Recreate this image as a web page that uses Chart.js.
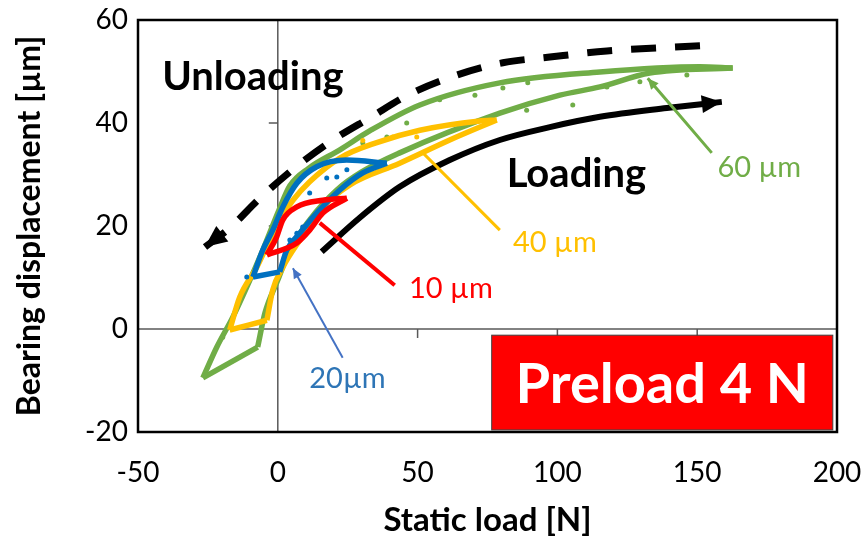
<!DOCTYPE html>
<html>
<head>
<meta charset="utf-8">
<script src="https://cdn.jsdelivr.net/npm/chart.js@4"></script>
<style>
  html, body { margin: 0; padding: 0; background: #fff; }
  #wrap { width: 865px; height: 549px; }
</style>
</head>
<body>
<div id="wrap"><canvas id="c" width="865" height="549"></canvas></div>
<script>
// Bearing displacement vs static load, preload 4 N: hysteresis loops for
// 10/20/40/60 um amplitudes plus the loading / unloading guide curves.
var xTicks = [-50, 0, 50, 100, 150, 200];
var yTicks = [-20, 0, 20, 40, 60];

// guide curves (x = load N, y = displacement um)
var unloadGuide = [[151, 55.0], [117.7, 54.0], [97.3, 52.8], [80.5, 51.7], [64.0, 49.3], [47.2, 45.6],
  [32.9, 41.0], [19.7, 36.7], [6.1, 31.3], [-6.4, 25.4], [-17.2, 19.6], [-26.1, 15.9]];
var loadGuide = [[15.7, 15.0], [29.3, 21.6], [43.6, 27.6], [61.5, 32.8], [79.4, 36.7], [97.3, 39.2],
  [115.2, 41.2], [139.1, 42.9], [158.8, 44.1]];

// 60 um loop
var g60Unload = [[162.7, 50.7], [150.9, 50.9], [115.2, 49.9], [79.4, 47.8], [50.8, 43.5], [33.0, 38.5],
  [22.2, 34.8], [11.0, 31.2], [4.3, 27.8], [0.5, 23.2], [-5.4, 15.3], [-10.0, 9.5], [-16.1, 2.3],
  [-21.8, -3.5], [-26.8, -9.5]];
var g60Base = [[-26.8, -9.5], [-7.2, -3.5]];
var g60Load = [[-7.2, -3.5], [-4.6, 3.1], [0, 9.5], [4.3, 15.3], [11.4, 21.2], [21.1, 27.0], [30.0, 30.5],
  [43.6, 34.2], [79.4, 41.9], [100.9, 45.4], [115.2, 47.0], [133.0, 49.7], [162.7, 50.7]];
var g60Dots = [[57.9, 44.5], [70.5, 45.4], [80.5, 46.8], [89.4, 47.8], [129.5, 48.0], [146.3, 49.3],
  [105.5, 43.5], [89.0, 42.5], [117.7, 47.0], [46.1, 40.0], [39.0, 37.3], [30.4, 36.1], [-19.7, -1.6]];

// 40 um loop
var y40Unload = [[78.3, 40.6], [72.2, 40.4], [50.8, 38.6], [35.4, 36.2], [22.2, 33.2], [11.4, 28.6],
  [5.4, 25.0], [0.7, 21.2], [-2.9, 17.3], [-7.5, 12.0], [-13.6, 6.2], [-17.2, -0.2]];
var y40Base = [[-17.2, -0.2], [-3.9, 1.7]];
var y40Load = [[-3.9, 1.7], [-1.8, 7.6], [1.8, 12.0], [7.9, 17.3], [16.1, 23.7], [25.8, 28.0],
  [43.6, 32.2], [61.5, 36.7], [78.3, 40.6]];
var y40Dots = [[49.7, 37.3], [41.1, 37.3], [30.4, 36.6]];

// 20 um loop
var b20Unload = [[39.0, 32.2], [24.7, 32.8], [13.9, 31.5], [6.8, 28.3], [1.8, 23.7], [-1.8, 19.2],
  [-5.4, 15.3], [-8.9, 10.1]];
var b20Base = [[-8.9, 10.1], [0.7, 11.1]];
var b20Load = [[0.7, 11.1], [3.2, 15.3], [7.9, 18.6], [13.9, 22.5], [22.2, 27.0], [30.4, 30.3], [39.0, 32.2]];
var b20Dots = [[17.5, 29.3], [21.1, 29.5], [24.7, 30.9], [11.4, 26.4], [8.9, 19.8], [6.8, 18.6],
  [4.3, 17.3], [-11.1, 10.1]];

// 10 um loop
var r10Unload = [[24.7, 25.4], [16.1, 25.0], [6.8, 23.7], [1.8, 21.2], [-0.4, 17.9], [-3.9, 14.4]];
var r10Load = [[-3.9, 14.4], [6.8, 16.7], [11.4, 19.2], [16.1, 22.5], [24.7, 25.4]];

// callout leader lines (label end -> curve end)
var lead60 = [[155.2, 34.2], [132.3, 48.7]];
var lead40 = [[79.4, 19.2], [51.9, 34.2]];
var lead10 = [[41.8, 8.5], [15.0, 20.6]];
var lead20 = [[23.2, -5.6], [5.4, 11.8]];

var GREEN = "#70AD47", YELLOW = "#FFC000", BLUE = "#0070C0", RED = "#FF0000";
var FONT = "Lato, 'Open Sans', sans-serif";

var notes = [
  { text: "Unloading", x: -8.9, y: 46.4, color: "#000", font: "bold 40px " + FONT },
  { text: "Loading", x: 106.8, y: 27.6, color: "#000", font: "bold 40px " + FONT },
  { text: "60 \u00b5m", x: 172.2, y: 29.5, color: GREEN, font: "29px " + FONT },
  { text: "40 \u00b5m", x: 99.1, y: 15.0, color: YELLOW, font: "29px " + FONT },
  { text: "10 \u00b5m", x: 61.9, y: 6.0, color: RED, font: "29px " + FONT },
  { text: "20\u00b5m", x: 24.9, y: -11.5, color: "#2E75B6", font: "29px " + FONT }
];
var preload = { text: "Preload 4 N", x0: 76.5, x1: 198.5, y0: -1.2, y1: -19.6 };

function line(data, color, width, extra) {
  var d = { data: data, borderColor: color, backgroundColor: color, borderWidth: width,
            pointRadius: 0, cubicInterpolationMode: "monotone", fill: false };
  for (var k in extra) d[k] = extra[k];
  return d;
}
function dots(data, color) {
  return { data: data, showLine: false, pointRadius: 2.5, pointBorderWidth: 0,
           pointBackgroundColor: color, borderColor: color, backgroundColor: color };
}

// first dataset is drawn on top
var datasets = [
  line(lead60, GREEN, 3, { arrow: 11 }),
  line(lead40, YELLOW, 3),
  line(lead10, RED, 4),
  line(lead20, "#4472C4", 2, { arrow: 10 }),
  line(r10Unload, RED, 5.5), line(r10Load, RED, 5.5),
  dots(b20Dots, BLUE),
  line(b20Unload, BLUE, 5.5), line(b20Base, BLUE, 5.5), line(b20Load, BLUE, 5.5),
  dots(y40Dots, YELLOW),
  line(y40Unload, YELLOW, 5.5), line(y40Base, YELLOW, 5.5), line(y40Load, YELLOW, 5.5),
  dots(g60Dots, GREEN),
  line(g60Unload, GREEN, 5.5), line(g60Base, GREEN, 5.5), line(g60Load, GREEN, 5.5),
  line(loadGuide, "#000", 6, { arrow: 20 }),
  line(unloadGuide, "#000", 7, { borderDash: [25, 19], arrow: 22 })
];

var overlay = {
  id: "overlay",
  beforeDatasetsDraw: function (chart) {
    var ctx = chart.ctx, a = chart.chartArea, x = chart.scales.x, y = chart.scales.y;
    var x0 = x.getPixelForValue(0), y0 = y.getPixelForValue(0);
    ctx.save();
    ctx.strokeStyle = "#595959"; ctx.lineWidth = 1.5;
    ctx.beginPath();
    ctx.moveTo(a.left, y0); ctx.lineTo(a.right, y0);
    ctx.moveTo(x0, a.top); ctx.lineTo(x0, a.bottom);
    xTicks.forEach(function (v) { var p = x.getPixelForValue(v); ctx.moveTo(p, y0); ctx.lineTo(p, y0 + 9); });
    yTicks.forEach(function (v) { var p = y.getPixelForValue(v); ctx.moveTo(x0 - 9, p); ctx.lineTo(x0, p); });
    ctx.stroke();
    ctx.restore();
  },
  afterDatasetsDraw: function (chart) {
    var ctx = chart.ctx, a = chart.chartArea, x = chart.scales.x, y = chart.scales.y;
    ctx.save();
    // arrow heads at the last point of flagged datasets
    chart.data.datasets.forEach(function (ds, i) {
      if (!ds.arrow) return;
      var pts = chart.getDatasetMeta(i).data, n = pts.length;
      var p = pts[n - 1], q = pts[n - 2];
      var ang = Math.atan2(p.y - q.y, p.x - q.x), L = ds.arrow, W = L * 0.45;
      ctx.fillStyle = ds.borderColor;
      ctx.beginPath();
      ctx.moveTo(p.x, p.y);
      ctx.lineTo(p.x - L * Math.cos(ang) + W * Math.sin(ang), p.y - L * Math.sin(ang) - W * Math.cos(ang));
      ctx.lineTo(p.x - L * Math.cos(ang) - W * Math.sin(ang), p.y - L * Math.sin(ang) + W * Math.cos(ang));
      ctx.closePath();
      ctx.fill();
    });
    // text notes
    ctx.textAlign = "center"; ctx.textBaseline = "alphabetic";
    notes.forEach(function (n) {
      ctx.font = n.font; ctx.fillStyle = n.color;
      ctx.fillText(n.text, x.getPixelForValue(n.x), y.getPixelForValue(n.y));
    });
    // preload badge
    var bx0 = x.getPixelForValue(preload.x0), bx1 = x.getPixelForValue(preload.x1);
    var by0 = y.getPixelForValue(preload.y0), by1 = y.getPixelForValue(preload.y1);
    ctx.fillStyle = RED;
    ctx.fillRect(bx0, by0, bx1 - bx0, by1 - by0);
    ctx.strokeStyle = "#404040"; ctx.lineWidth = 1;
    ctx.strokeRect(bx0, by0, bx1 - bx0, by1 - by0);
    ctx.fillStyle = "#fff"; ctx.font = "bold 56px " + FONT;
    ctx.textBaseline = "middle";
    ctx.fillText(preload.text, (bx0 + bx1) / 2, (by0 + by1) / 2 + 2);
    // plot frame
    ctx.strokeStyle = "#000"; ctx.lineWidth = 2.5;
    ctx.strokeRect(a.left, a.top, a.right - a.left, a.bottom - a.top);
    ctx.restore();
  }
};

new Chart(document.getElementById("c"), {
  type: "line",
  data: { datasets: datasets },
  options: {
    responsive: false, animation: false,
    layout: { padding: { left: 0, right: 28, top: 20, bottom: 0 } },
    plugins: { legend: { display: false }, tooltip: { enabled: false } },
    scales: {
      x: {
        type: "linear", min: -50, max: 200,
        afterBuildTicks: function (s) { s.ticks = xTicks.map(function (v) { return { value: v }; }); },
        afterFit: function (s) { s.height = 117; s.paddingLeft = 0; s.paddingRight = 0; },
        grid: { display: false, drawTicks: false }, border: { display: false },
        ticks: { padding: 24, color: "#000", font: { family: FONT, size: 28 } },
        title: { display: true, text: "Static load [N]", color: "#000", padding: { top: 0, bottom: 9 },
                 font: { family: FONT, size: 33, weight: "bold" } }
      },
      y: {
        type: "linear", min: -20, max: 60,
        afterBuildTicks: function (s) { s.ticks = yTicks.map(function (v) { return { value: v }; }); },
        afterFit: function (s) { s.width = 138; s.paddingTop = 0; s.paddingBottom = 0; },
        grid: { display: false, drawTicks: false }, border: { display: false },
        ticks: { padding: 10, color: "#000", font: { family: FONT, size: 28 } },
        title: { display: true, text: "Bearing displacement [\u00b5m]", color: "#000", padding: { top: 10, bottom: 0 },
                 font: { family: FONT, size: 32, weight: "bold" } }
      }
    }
  },
  plugins: [overlay]
});
</script>
</body>
</html>
